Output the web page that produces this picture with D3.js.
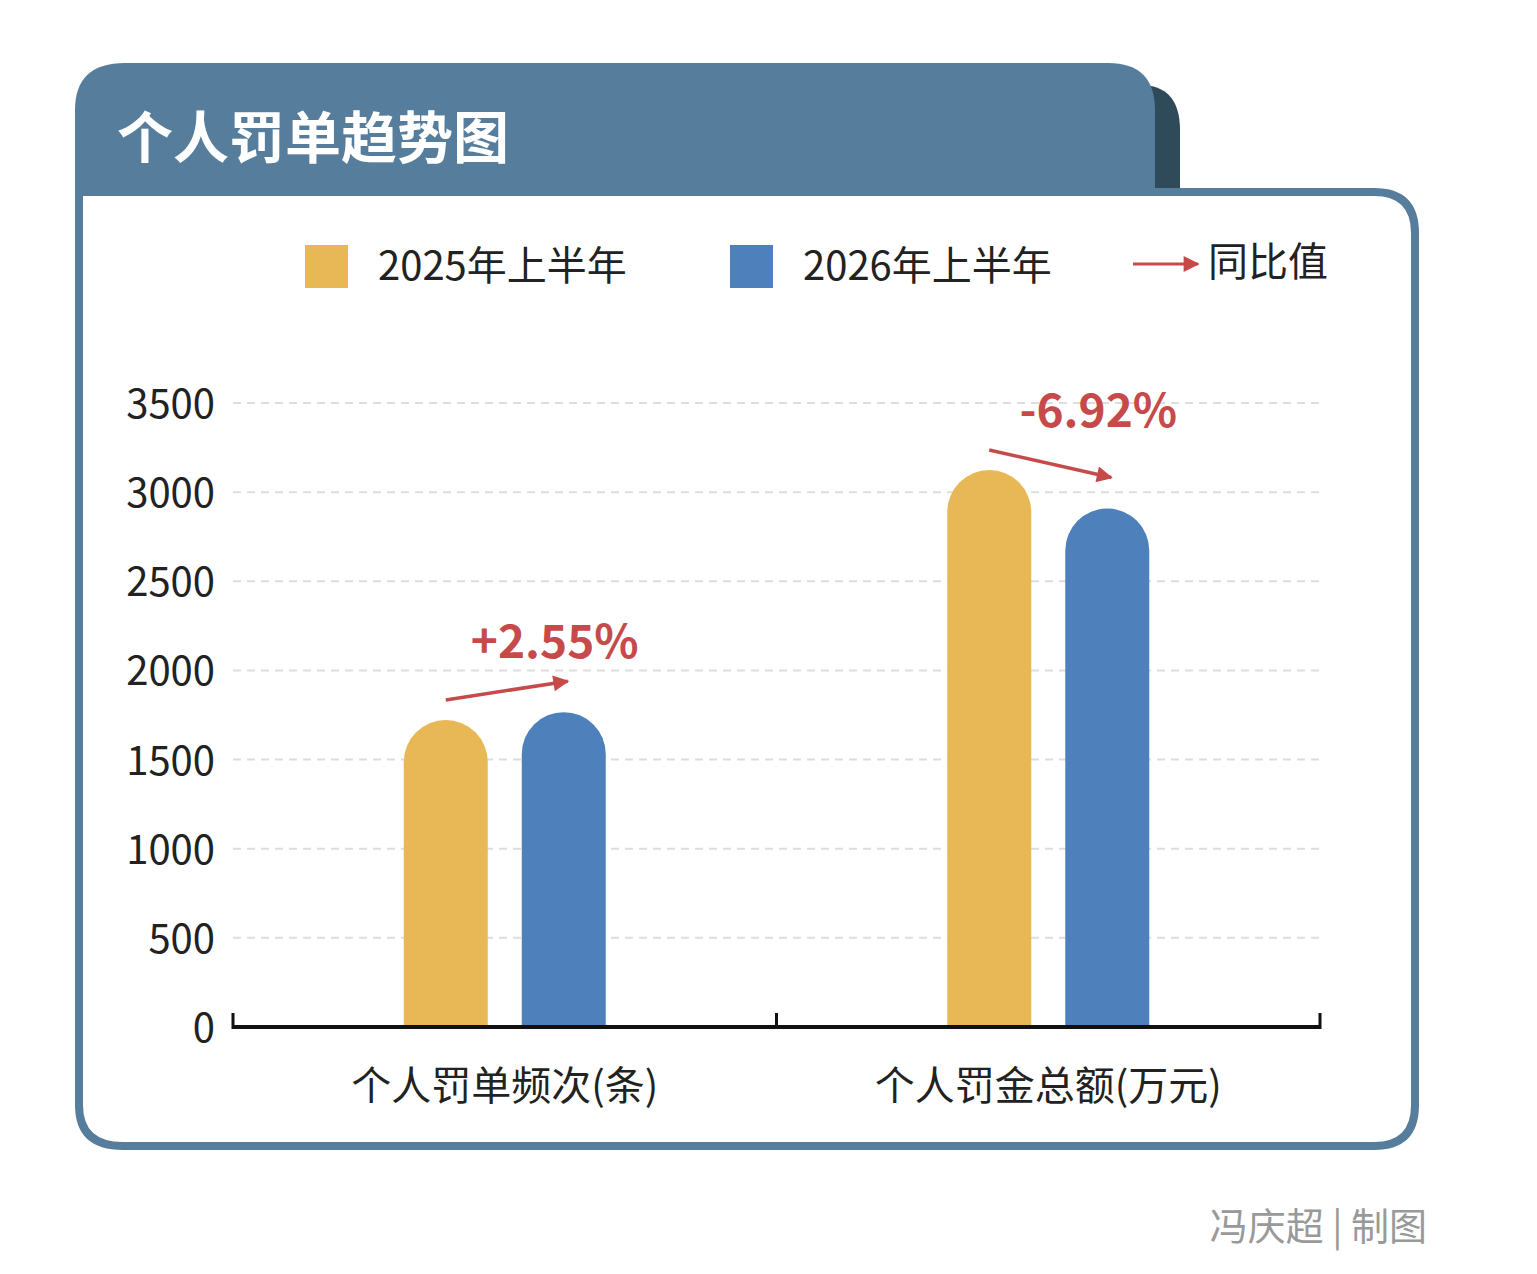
<!DOCTYPE html>
<html><head><meta charset="utf-8">
<script src="https://cdn.jsdelivr.net/npm/d3@7"></script>
<style>body{margin:0;background:#fff}text{font-family:"Noto Sans CJK SC","Noto Sans",sans-serif}</style>
</head><body>
<svg id="chart" width="1537" height="1274"></svg>
<script>
var categories = ["个人罚单频次(条)", "个人罚金总额(万元)"];
var series = ["2025年上半年", "2026年上半年"];
var values2025 = [1722, 3124];
var values2026 = [1766, 2908];
var changes = ["+2.55%", "-6.92%"];
var yTicks = [0, 500, 1000, 1500, 2000, 2500, 3000, 3500];
var colors = ["#e8b856", "#4e80bb"];
var red = "#c64a4a";

var svg = d3.select("#chart");
var defs = svg.append("defs");
defs.append("marker").attr("id", "ah").attr("viewBox", "0 0 10 10").attr("refX", 9).attr("refY", 5)
    .attr("markerWidth", 6).attr("markerHeight", 6).attr("orient", "auto")
    .attr("markerUnits", "userSpaceOnUse").attr("markerWidth", 22).attr("markerHeight", 16)
    .append("path").attr("d", "M0,0 L10,5 L0,10 z").attr("fill", red);

// frame
svg.append("path").attr("d", "M1100,85 H1140 Q1180,85 1180,130 V190 H1100 Z").attr("fill", "#2f4b5a");
svg.append("path").attr("d", "M75,200 V110 Q75,63 125,63 H1108 Q1155,63 1155,110 V200 Z").attr("fill", "#567d9b");
svg.append("path").attr("d", "M79,192 H1374 Q1415,192 1415,233 V1105 Q1415,1146 1374,1146 H123 Q79,1146 79,1105 Z")
    .attr("fill", "#fff").attr("stroke", "#567d9b").attr("stroke-width", 8);
svg.append("text").attr("x", 117).attr("y", 158).attr("fill", "#fff").attr("font-size", 56).attr("font-weight", 700)
    .text("个人罚单趋势图");

// legend
var lx = [305, 730];
series.forEach(function(s, i) {
    svg.append("rect").attr("x", lx[i]).attr("y", 245).attr("width", 43).attr("height", 43).attr("fill", colors[i]);
    svg.append("text").attr("x", lx[i] + 73).attr("y", 280).attr("font-size", 40).attr("fill", "#222").text(s);
});
svg.append("line").attr("x1", 1133).attr("y1", 264).attr("x2", 1198).attr("y2", 264)
    .attr("stroke", red).attr("stroke-width", 3).attr("marker-end", "url(#ah)");
svg.append("text").attr("x", 1208).attr("y", 276).attr("font-size", 40).attr("fill", "#222").text("同比值");

// scales
var x = d3.scaleBand().domain(categories).range([233, 1320]);
var y = d3.scaleLinear().domain([0, 3500]).range([1027, 403]);

svg.selectAll(".grid").data(yTicks.slice(1)).enter().append("line")
    .attr("x1", 233).attr("x2", 1320).attr("y1", function(d){ return y(d); }).attr("y2", function(d){ return y(d); })
    .attr("stroke", "#ddd").attr("stroke-width", 2).attr("stroke-dasharray", "8,6");

svg.selectAll(".yl").data(yTicks).enter().append("text")
    .attr("x", 215).attr("y", function(d){ return y(d) + 15; }).attr("text-anchor", "end")
    .attr("font-size", 40).attr("fill", "#222").text(function(d){ return d; });

// bars
var bw = 84, off = 59;
function barPath(cx, v) {
    var r = bw / 2, top = y(v), b = y(0);
    return "M" + (cx - r) + "," + b + " V" + (top + r) + " A" + r + "," + r + " 0 0 1 " + (cx + r) + "," + (top + r) + " V" + b + " Z";
}
categories.forEach(function(c, i) {
    var cx = x(c) + x.bandwidth() / 2;
    [values2025[i], values2026[i]].forEach(function(v, j) {
        svg.append("path").attr("d", barPath(cx + (j ? off : -off), v)).attr("fill", colors[j]);
    });
    var x1 = cx - off, y1 = y(values2025[i]) - 20, x2 = cx + off + 4, y2 = y(values2026[i]) - 31;
    svg.append("line").attr("x1", x1).attr("y1", y1).attr("x2", x2).attr("y2", y2)
        .attr("stroke", red).attr("stroke-width", 3.5).attr("marker-end", "url(#ah)");
    svg.append("text").attr("x", cx + 50).attr("y", Math.min(y1, y2) - 23).attr("text-anchor", "middle")
        .attr("font-size", 46).attr("font-weight", 700).attr("fill", red).text(changes[i]);
    svg.append("text").attr("x", cx).attr("y", 1100).attr("text-anchor", "middle")
        .attr("font-size", 40).attr("fill", "#222").text(c);
});

// axis
svg.append("line").attr("x1", 233).attr("x2", 1320).attr("y1", 1027).attr("y2", 1027).attr("stroke", "#111").attr("stroke-width", 4);
[233, 233 + x.bandwidth(), 1320].forEach(function(t) {
    svg.append("line").attr("x1", t).attr("x2", t).attr("y1", 1013).attr("y2", 1029).attr("stroke", "#111").attr("stroke-width", 3);
});

svg.append("text").attr("x", 1427).attr("y", 1240).attr("text-anchor", "end").attr("font-size", 38).attr("fill", "#999").text("冯庆超 | 制图");
</script>
</body></html>
